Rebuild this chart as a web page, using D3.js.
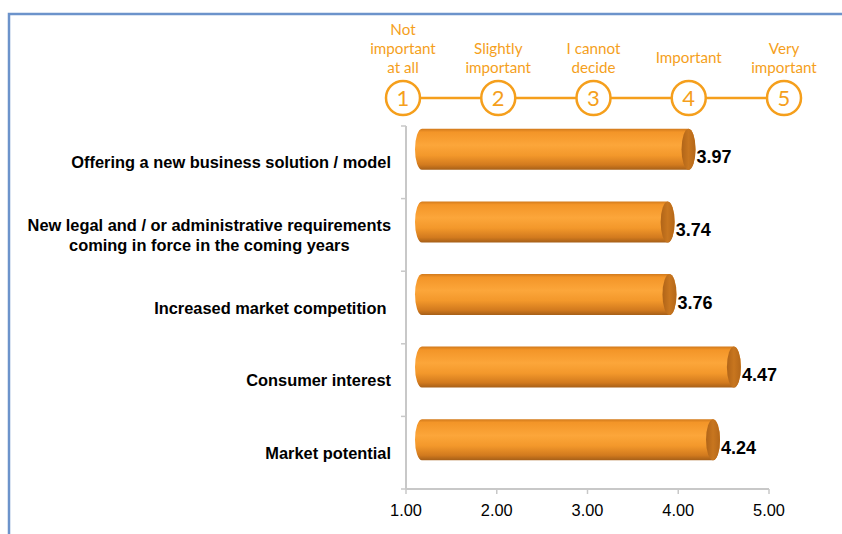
<!DOCTYPE html>
<html>
<head>
<meta charset="utf-8">
<script src="https://cdn.jsdelivr.net/npm/d3@7"></script>
<style>
  body { margin: 0; background: #fff; }
  svg { display: block; }
  .cat-label { font-family: "Liberation Sans", Arial, sans-serif; font-weight: bold; font-size: 16.4px; fill: #000; white-space: pre; }
  .val-label { font-family: "Liberation Sans", Arial, sans-serif; font-weight: bold; font-size: 18px; fill: #000; }
  .tick-label { font-family: "Liberation Sans", Arial, sans-serif; font-size: 16.4px; fill: #000; }
  .scale-text { font-family: Lato, "Open Sans", sans-serif; font-size: 15.2px; fill: #F59F1C; }
  .scale-num { font-family: Lato, "Open Sans", sans-serif; font-size: 22px; fill: #F59F1C; }
</style>
</head>
<body>
<svg id="chart" width="842" height="534"></svg>
<script>
// ========= data =========
const categories = [
    "Offering a new business solution / model",
    "New legal and / or administrative requirements|coming in force in the coming years",
    "Increased market competition ",
    "Consumer interest",
    "Market potential"
];
const values = [3.97, 3.74, 3.76, 4.47, 4.24];
const xTicks = [1, 2, 3, 4, 5];

const scaleNums = [1, 2, 3, 4, 5];
const scaleLabels = [
    ["Not", "important", "at all"],
    ["Slightly", "important"],
    ["I cannot", "decide"],
    ["Important"],
    ["Very", "important"]
];

// ========= svg =========
const svg = d3.select("#chart");
const width = +svg.attr("width");
const height = +svg.attr("height");

// blue frame (top and left edges visible)
svg.append("path")
    .attr("d", `M9,${height} L9,14 L${width},14`)
    .attr("fill", "none")
    .attr("stroke", "#6C93CB")
    .attr("stroke-width", 2.5);

const x = d3.scaleLinear()
    .domain([1, 5])
    .range([406, 769]);

const y = d3.scaleBand()
    .domain(categories)
    .range([126, 489]);

const g = svg.append("g");

// ========= axes =========
g.append("line")
    .attr("x1", x(1)).attr("x2", x(1))
    .attr("y1", y.range()[0]).attr("y2", y.range()[1])
    .attr("stroke", "#c8c8c8").attr("stroke-width", 2);

g.append("line")
    .attr("x1", x(1)).attr("x2", x(5))
    .attr("y1", y.range()[1]).attr("y2", y.range()[1])
    .attr("stroke", "#c8c8c8").attr("stroke-width", 2);

// category ticks (left of y axis)
const yTickPos = categories.map(c => y(c)).concat([y.range()[1]]);
g.selectAll(".ytick")
    .data(yTickPos)
    .join("line")
    .attr("x1", x(1) - 5).attr("x2", x(1))
    .attr("y1", d => d).attr("y2", d => d)
    .attr("stroke", "#c8c8c8").attr("stroke-width", 1.5);

// value ticks
g.selectAll(".xtick")
    .data(xTicks)
    .join("line")
    .attr("x1", d => x(d)).attr("x2", d => x(d))
    .attr("y1", y.range()[1]).attr("y2", y.range()[1] + 5)
    .attr("stroke", "#c8c8c8").attr("stroke-width", 1.5);

g.selectAll(".tick-label")
    .data(xTicks)
    .join("text")
    .attr("class", "tick-label")
    .attr("x", d => x(d))
    .attr("y", y.range()[1] + 27)
    .attr("text-anchor", "middle")
    .text(d => d.toFixed(2));

// ========= category labels =========
g.selectAll(".cat-label")
    .data(categories)
    .join("text")
    .attr("class", "cat-label")
    .attr("text-anchor", "end")
    .each(function (d) {
        const lines = d.split("|");
        const t = d3.select(this);
        const cy = y(d) + y.bandwidth() / 2;
        lines.forEach((line, i) => {
            t.append("tspan")
                .attr("x", 0)
                .attr("y", cy + 6 + (i - (lines.length - 1) / 2) * 20)
                .text(line);
        });
        // lines centred on each other, block right-aligned to the axis
        if (lines.length > 1) {
            t.attr("text-anchor", "middle");
        }
    })
    .attr("transform", function () {
        if (d3.select(this).attr("text-anchor") === "end") return "translate(391,0)";
        const w = this.getBBox().width;
        return `translate(${391 - w / 2},0)`;
    });

// ========= bars (cylinders) =========
const defs = svg.append("defs");
const grad = defs.append("linearGradient")
    .attr("id", "bar-grad")
    .attr("x1", "0%").attr("x2", "0%")
    .attr("y1", "0%").attr("y2", "100%");
[
    [0.00, "#D27A1C"],
    [0.08, "#F39528"],
    [0.40, "#FCA63A"],
    [0.65, "#F3982B"],
    [0.88, "#D27A1E"],
    [1.00, "#A65F18"]
].forEach(([t, c]) => grad.append("stop").attr("offset", `${t * 100}%`).attr("stop-color", c));

const capGrad = defs.append("linearGradient")
    .attr("id", "cap-grad")
    .attr("x1", "0%").attr("x2", "100%")
    .attr("y1", "0%").attr("y2", "0%");
[
    [0.0, "#B06418"],
    [0.5, "#C8761F"],
    [1.0, "#B46719"]
].forEach(([t, c]) => capGrad.append("stop").attr("offset", `${t * 100}%`).attr("stop-color", c));

const barH = 41;
const dx0 = 9, dx1 = 20, dy = -13;
const rx = 7;

const bars = g.selectAll(".bar")
    .data(categories.map((c, i) => ({ c, v: values[i] })))
    .join("g")
    .attr("class", "bar");

bars.append("path")
    .attr("d", d => {
        const x0 = x(1) + dx0;
        const x1 = x(d.v) + dx1;
        const yt = y(d.c) + y.bandwidth() / 2 + dy - barH / 2;
        const yb = yt + barH;
        return `M${x0 + rx},${yt} L${x1 - rx},${yt} A${rx},${barH / 2} 0 0 1 ${x1 - rx},${yb} L${x0 + rx},${yb} A${rx},${barH / 2} 0 0 1 ${x0 + rx},${yt} Z`;
    })
    .attr("fill", "url(#bar-grad)");

bars.append("ellipse")
    .attr("cx", d => x(d.v) + dx1 - rx)
    .attr("cy", d => y(d.c) + y.bandwidth() / 2 + dy)
    .attr("rx", rx)
    .attr("ry", barH / 2)
    .attr("fill", "url(#cap-grad)");

bars.append("text")
    .attr("class", "val-label")
    .attr("x", d => x(d.v) + dx1 + 1)
    .attr("y", d => y(d.c) + y.bandwidth() / 2 + dy + 14)
    .text(d => d.v.toFixed(2));

// ========= importance scale =========
const s = d3.scaleLinear()
    .domain([1, 5])
    .range([403, 784]);
const sy = 98;
const r = 17;

const sg = svg.append("g");
sg.selectAll(".conn")
    .data(scaleNums.slice(0, -1))
    .join("line")
    .attr("x1", d => s(d) + r).attr("x2", d => s(d + 1) - r)
    .attr("y1", sy).attr("y2", sy)
    .attr("stroke", "#F59F1C").attr("stroke-width", 2.5);

sg.selectAll(".circ")
    .data(scaleNums)
    .join("circle")
    .attr("cx", d => s(d)).attr("cy", sy).attr("r", r)
    .attr("fill", "#fff")
    .attr("stroke", "#F59F1C").attr("stroke-width", 2.5);

sg.selectAll(".scale-num")
    .data(scaleNums)
    .join("text")
    .attr("class", "scale-num")
    .attr("x", d => s(d)).attr("y", sy + 8)
    .attr("text-anchor", "middle")
    .text(d => d);

sg.selectAll(".scale-text")
    .data(scaleNums)
    .join("text")
    .attr("class", "scale-text")
    .attr("text-anchor", "middle")
    .each(function (d, i) {
        const lines = scaleLabels[i];
        const t = d3.select(this);
        const n = lines.length;
        // bottom-aligned block, single line centred a bit lower
        lines.forEach((line, j) => {
            const base = n === 1 ? 63 : 73 - (n - 1 - j) * 19;
            t.append("tspan")
                .attr("x", s(d))
                .attr("y", base)
                .text(line);
        });
    });
</script>
</body>
</html>
